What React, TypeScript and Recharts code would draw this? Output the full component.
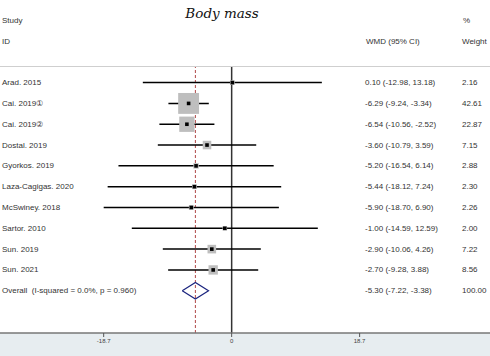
import React from "react";
import { ScatterChart, Scatter, XAxis, YAxis, ErrorBar, ReferenceLine, Customized } from "recharts";

const studies = [
  "Arad. 2015",
  "Cai. 2019\u2460",
  "Cai. 2019\u2461",
  "Dostal. 2019",
  "Gyorkos. 2019",
  "Laza-Cagigas. 2020",
  "McSwiney. 2018",
  "Sartor. 2010",
  "Sun. 2019",
  "Sun. 2021",
];
const wmd = [0.1, -6.29, -6.54, -3.6, -5.2, -5.44, -5.9, -1.0, -2.9, -2.7];
const lower = [-12.98, -9.24, -10.56, -10.79, -16.54, -18.12, -18.7, -14.59, -10.06, -9.28];
const upper = [13.18, -3.34, -2.52, 3.59, 6.14, 7.24, 6.9, 12.59, 4.26, 3.88];
const weights = [2.16, 42.61, 22.87, 7.15, 2.88, 2.3, 2.26, 2.0, 7.22, 8.56];

const overallLabel = "Overall\u00a0 (I-squared = 0.0%, p = 0.960)";
const overallEst = -5.3;
const overallLo = -7.22;
const overallHi = -3.38;
const overallWeight = 100.0;

const xTicks = [-18.7, 0, 18.7];

const FONT = "'Liberation Sans', Arial, sans-serif";
const ROW_OVERALL = studies.length;

const fmt = (v: number) => v.toFixed(2);

const studyRows = studies.map((s, i) => ({
  x: wmd[i],
  y: i,
  err: [wmd[i] - lower[i], upper[i] - wmd[i]],
  weight: weights[i],
}));

const textRows = [
  ...studies.map((s, i) => ({
    x: wmd[i],
    y: i,
    label: s,
    ci: `${fmt(wmd[i])} (${fmt(lower[i])}, ${fmt(upper[i])})`,
    w: fmt(weights[i]),
  })),
  {
    x: overallEst,
    y: ROW_OVERALL,
    label: overallLabel,
    ci: `${fmt(overallEst)} (${fmt(overallLo)}, ${fmt(overallHi)})`,
    w: fmt(overallWeight),
  },
];

// diamond outline for the pooled estimate
const DIAMOND_H = 0.4;
const diamond = [
  { x: overallLo, y: ROW_OVERALL },
  { x: overallEst, y: ROW_OVERALL - DIAMOND_H },
  { x: overallHi, y: ROW_OVERALL },
  { x: overallEst, y: ROW_OVERALL + DIAMOND_H },
  { x: overallLo, y: ROW_OVERALL },
];

const WeightBox = (props: any) => {
  const { cx, cy, payload } = props;
  const s = 3.2 * Math.sqrt(payload.weight);
  return <rect x={cx - s / 2} y={cy - s / 2} width={s} height={s} fill="#bebebe" />;
};

const Marker = (props: any) => {
  const { cx, cy } = props;
  return <rect x={cx - 1.8} y={cy - 1.8} width={3.6} height={3.6} fill="#000" />;
};

const RowText = (props: any) => {
  const { cy, payload } = props;
  return (
    <g fontFamily={FONT} fontSize={8} fill="#333">
      <text x={2} y={cy} dominantBaseline="central">{payload.label}</text>
      <text x={365} y={cy} dominantBaseline="central">{payload.ci}</text>
      <text x={462} y={cy} dominantBaseline="central">{payload.w}</text>
    </g>
  );
};

const Header = () => (
  <g>
    <text x={222} y={18} textAnchor="middle" fontFamily="'DejaVu Serif', serif" fontStyle="italic" fontSize={13.5} fill="#111">
      Body mass
    </text>
    <g fontFamily={FONT} fontSize={8} fill="#333">
      <text x={2} y={20} dominantBaseline="central">Study</text>
      <text x={2} y={41} dominantBaseline="central">ID</text>
      <text x={463} y={20} dominantBaseline="central">%</text>
      <text x={366} y={41} dominantBaseline="central">WMD (95% CI)</text>
      <text x={462} y={41} dominantBaseline="central">Weight</text>
    </g>
    <line x1={0} x2={490} y1={66.5} y2={66.5} stroke="#cfcfcf" strokeWidth={1} />
  </g>
);

export default function App() {
  return (
    <div
      style={{
        position: "absolute",
        left: 0,
        top: 0,
        width: 490,
        height: 356,
        background: "linear-gradient(to bottom, #fff 0px, #fff 333px, #e7edf0 333px)",
      }}
    >
      <ScatterChart width={490} height={356} margin={{ top: 67, right: 0, bottom: 0, left: 0 }}>
        <XAxis
          type="number"
          dataKey="x"
          domain={[-33.85, 37.75]}
          ticks={xTicks}
          interval={0}
          height={23}
          tickSize={4}
          tick={{ fontSize: 6, fill: "#444", fontFamily: FONT }}
          axisLine={{ stroke: "#777", strokeWidth: 1.5 }}
          tickLine={{ stroke: "#555" }}
          allowDataOverflow
        />
        <YAxis type="number" dataKey="y" domain={[-0.75, 12.03]} reversed hide width={0} allowDataOverflow />
        <ReferenceLine x={0} stroke="#333" strokeWidth={1.5} />
        <ReferenceLine x={overallEst} stroke="#b04848" strokeWidth={1} strokeDasharray="3 2" />
        <Scatter data={studyRows} shape={WeightBox} isAnimationActive={false} />
        <Scatter data={studyRows} shape={Marker} isAnimationActive={false}>
          <ErrorBar dataKey="err" direction="x" width={0} stroke="#000" strokeWidth={1.5} isAnimationActive={false} />
        </Scatter>
        <Scatter
          data={diamond}
          line={{ stroke: "#1a237e", strokeWidth: 1.2 }}
          lineType="joint"
          shape={() => <g />}
          isAnimationActive={false}
        />
        <Scatter data={textRows} shape={RowText} isAnimationActive={false} />
        <Customized component={Header} />
      </ScatterChart>
    </div>
  );
}
